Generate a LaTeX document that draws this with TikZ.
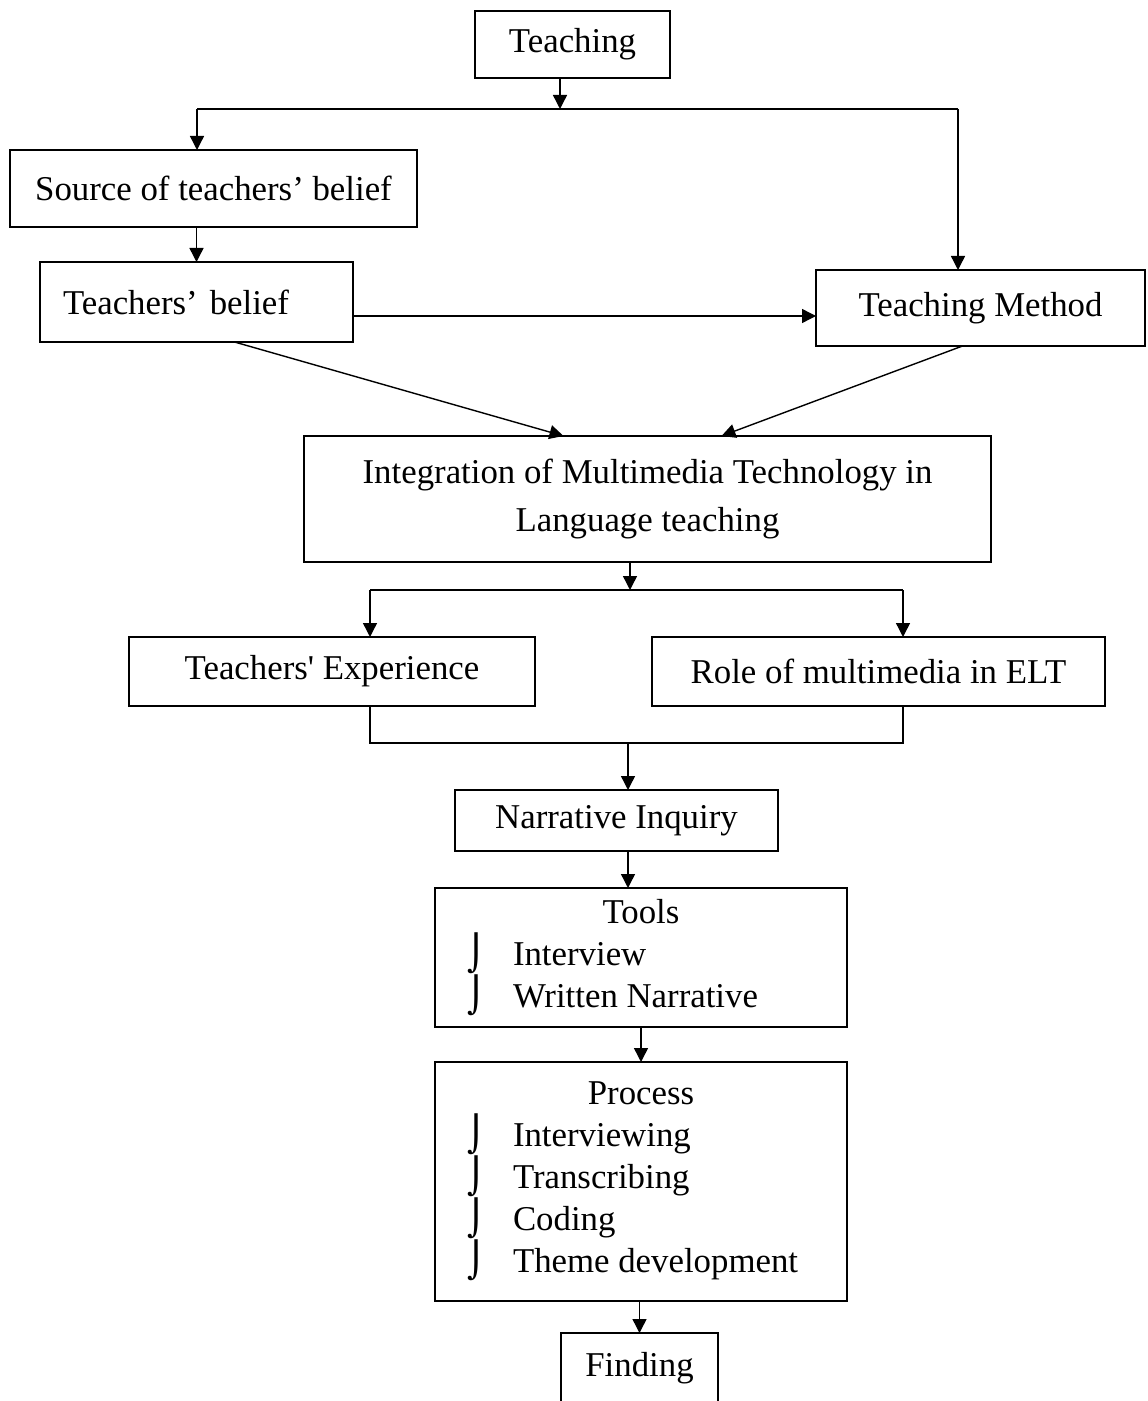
\documentclass[tikz,border=0pt]{standalone}
\usepackage{fontspec}
\setmainfont{Liberation Serif}
\newfontfamily\symfont{DejaVu Sans}
\usetikzlibrary{arrows.meta}
\newcommand{\itmark}[1]{\makebox[206pt][l]{\hspace{16pt}\makebox[23pt][l]{\symfont ⌡}#1}}

\begin{document}
\begin{tikzpicture}[x=0.5pt, y=-0.5pt, line width=0.7pt,
    every node/.style={draw, rectangle, inner sep=0pt, outer sep=0pt, font=\fontsize{17.4}{21}\selectfont},
    ->/.style={-{Triangle[length=7pt, width=7pt]}}]
    \useasboundingbox (0,0) rectangle (1147,1401);
    \clip (0,0) rectangle (1147,1401);

    % boxes
    \node[minimum width=97.5pt, minimum height=33.5pt] (t) at (572.5,44.5) {Teaching};
    \node[minimum width=203.5pt, minimum height=38.5pt] (src) at (213.5,188.5) {Source of teachers’ belief};
    \node[minimum width=156.5pt, minimum height=40pt] (bel) at (196.5,302) {\makebox[133.5pt][l]{Teachers’\hspace{6pt}belief}};
    \node[minimum width=164.5pt, minimum height=38pt] (meth) at (980.5,308) {Teaching Method};
    \node[minimum width=343.5pt, minimum height=63pt, align=center] (integ) at (647.5,499) {Integration of Multimedia Technology in\\[3pt] Language teaching};
    \node[minimum width=203pt, minimum height=34.5pt] (exp) at (332,671.5) {Teachers\textquotesingle{} Experience};
    \node[minimum width=226.5pt, minimum height=34.5pt] (role) at (878.5,671.5) {Role of multimedia in ELT};
    \node[minimum width=161.5pt, minimum height=30.5pt] (narr) at (616.5,820.5) {Narrative Inquiry};
    \node[minimum height=69.5pt, align=left] (tools) at (641,957.5) {\makebox[206pt]{Tools}\\
        \itmark{Interview}\\
        \itmark{Written Narrative}};
    \node[minimum height=119.5pt, align=left] (proc) at (641,1181.5) {\makebox[206pt]{Process}\\
        \itmark{Interviewing}\\
        \itmark{Transcribing}\\
        \itmark{Coding}\\
        \itmark{Theme development}};
    \node[anchor=north, minimum width=78.5pt, inner ysep=3pt, text height=18.5pt, text depth=30pt] (find) at (639.5,1333) {Finding};

    % junctions
    \coordinate (j1) at (560,109);
    \coordinate (sl) at (197,109);
    \coordinate (sr) at (958,109);
    \coordinate (b) at ([yshift=-7pt]bel.east);
    \coordinate (j2) at (630,590);
    \coordinate (el) at (370,590);
    \coordinate (er) at (903,590);
    \coordinate (j3) at (628,743);

    % connectors
    \draw[->] (t.south -| j1) -- (j1);
    \draw (sl) -- (sr);
    \draw[->] (sl) -- (sl |- src.north);
    \draw[->] (sr) -- (sr |- meth.north);
    \draw[->] (bel.north |- src.south) -- (bel.north);
    \draw[->] (b) -- (b -| meth.west);
    \draw[->] ([xshift=19pt]bel.south) -- ([xshift=-42pt]integ.north);
    \draw[->] ([xshift=-9pt]meth.south) -- ([xshift=37pt]integ.north);
    \draw[->] (integ.south -| j2) -- (j2);
    \draw (el) -- (er);
    \draw[->] (el) -- (el |- exp.north);
    \draw[->] (er) -- (er |- role.north);
    \draw (el |- exp.south) |- (j3 -| er) -- (er |- role.south);
    \draw[->] (j3) -- (j3 |- narr.north);
    \draw[->] (j3 |- narr.south) -- (j3 |- tools.north);
    \draw[->] (tools.south) -- (proc.north);
    \draw[->] (proc.south -| find.north) -- (find.north);
\end{tikzpicture}
\end{document}
